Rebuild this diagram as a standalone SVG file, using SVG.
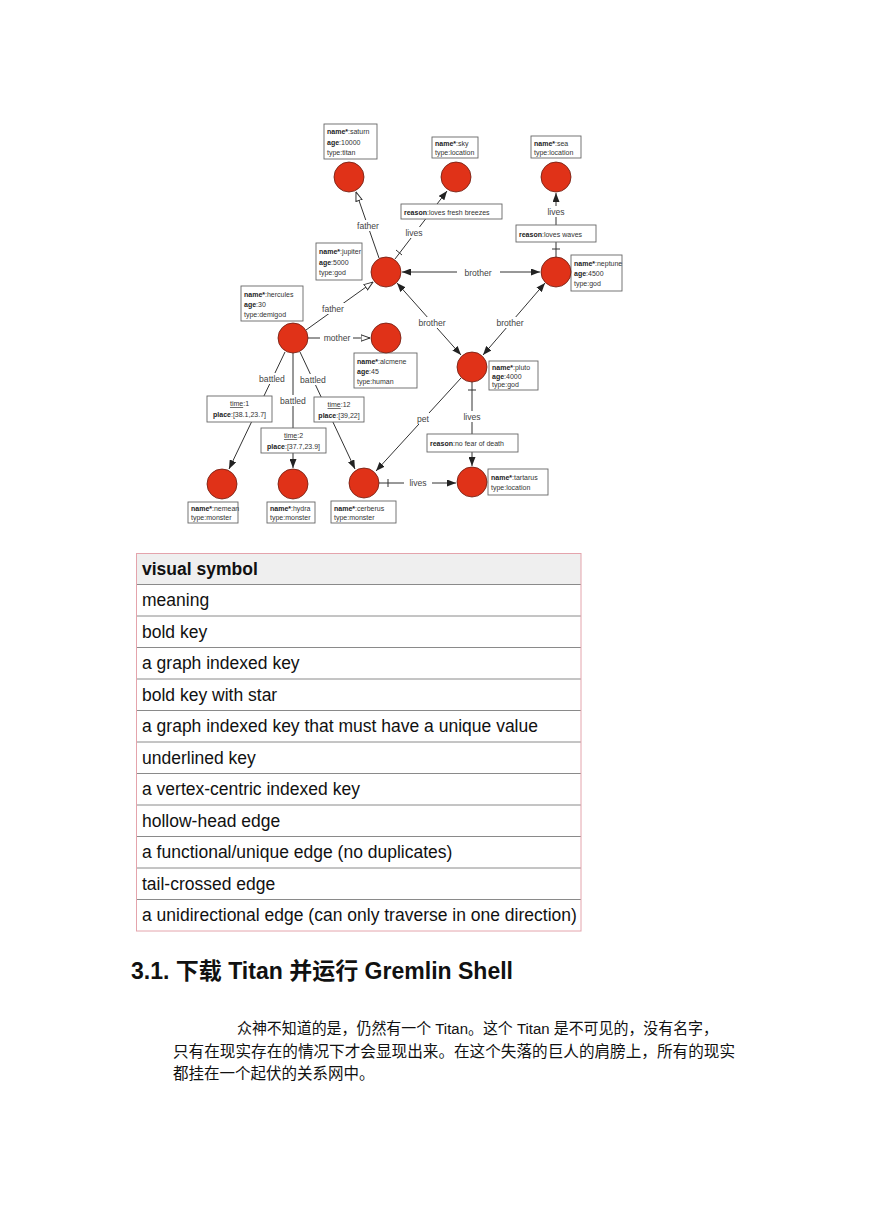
<svg xmlns="http://www.w3.org/2000/svg" width="869" height="1228" viewBox="0 0 869 1228">
<defs>
<style>
.v{fill:#e03218;stroke:#6b1c10;stroke-width:0.8}
.b{fill:#fff;stroke:#666;stroke-width:0.9}
.t{font-family:"Liberation Sans",Arial,sans-serif;font-size:7px;fill:#333}
.k{font-weight:bold;fill:#222}
.e{stroke:#333;stroke-width:1;fill:none}
.el{font-family:"Liberation Sans",Arial,sans-serif;font-size:8.6px;fill:#444;text-anchor:middle}
.lb{fill:#fff}
.tc{stroke:#333;stroke-width:1}
.tb{font-family:"Liberation Sans",Arial,sans-serif;font-size:17.5px;fill:#111}
.rl{stroke:#8a8a8a;stroke-width:1}
</style>
<marker id="fa" markerUnits="userSpaceOnUse" viewBox="0 0 9 7" refX="9" refY="3.5" markerWidth="9" markerHeight="7" orient="auto-start-reverse"><path d="M0,0 L9,3.5 L0,7 z" fill="#222"/></marker>
<marker id="ha" markerUnits="userSpaceOnUse" viewBox="0 0 10 8" refX="9.5" refY="4" markerWidth="10" markerHeight="8" orient="auto"><path d="M0.5,0.8 L9.5,4 L0.5,7.2 z" fill="#fff" stroke="#333" stroke-width="1"/></marker>
</defs>
<rect width="869" height="1228" fill="#fff"/>

<g id="connectors">
<line class="e" x1="379" y1="258" x2="356" y2="192" marker-end="url(#ha)"/>
<line class="e" x1="395" y1="259" x2="447" y2="191" marker-end="url(#fa)"/>
<line class="tc" x1="396" y1="250" x2="402" y2="255"/>
<line class="e" x1="556" y1="257" x2="556" y2="193" marker-end="url(#fa)"/>
<line class="tc" x1="552" y1="249" x2="560" y2="249"/>
<line class="e" x1="402" y1="272" x2="540" y2="272" marker-start="url(#fa)" marker-end="url(#fa)"/>
<line class="e" x1="397" y1="283" x2="461" y2="355" marker-start="url(#fa)" marker-end="url(#fa)"/>
<line class="e" x1="545" y1="283" x2="483" y2="355" marker-start="url(#fa)" marker-end="url(#fa)"/>
<line class="e" x1="306" y1="330" x2="373" y2="282" marker-end="url(#ha)"/>
<line class="e" x1="308" y1="338" x2="370" y2="338" marker-end="url(#ha)"/>
<line class="e" x1="285" y1="352" x2="229" y2="469" marker-end="url(#fa)"/>
<line class="e" x1="293" y1="353" x2="293" y2="468" marker-end="url(#fa)"/>
<line class="e" x1="300" y1="352" x2="355" y2="469" marker-end="url(#fa)"/>
<line class="e" x1="461" y1="378" x2="376" y2="471" marker-end="url(#fa)"/>
<line class="e" x1="472" y1="382" x2="472" y2="466" marker-end="url(#fa)"/>
<line class="tc" x1="468" y1="390" x2="476" y2="390"/>
<line class="e" x1="379" y1="483" x2="456" y2="483" marker-end="url(#fa)"/>
<line class="tc" x1="388" y1="479" x2="388" y2="487"/>

<g id="edge-labels">
<rect class="lb" x="355" y="220" width="26" height="11"/><text class="el" x="368" y="229">father</text>
<rect class="lb" x="404" y="227" width="20" height="11"/><text class="el" x="414" y="236">lives</text>
<rect class="b" x="401" y="204" width="101" height="15"/>
<text class="t" x="404" y="214.5"><tspan class="k">reason</tspan>:loves fresh breezes</text>
<rect class="lb" x="546" y="206" width="20" height="11"/><text class="el" x="556" y="215">lives</text>
<rect class="b" x="516" y="225" width="80" height="17"/>
<text class="t" x="519" y="236.5"><tspan class="k">reason</tspan>:loves waves</text>
<rect class="lb" x="457" y="267" width="43" height="11"/><text class="el" x="478" y="276">brother</text>
<rect class="lb" x="413" y="317" width="39" height="11"/><text class="el" x="432" y="326">brother</text>
<rect class="lb" x="491" y="317" width="39" height="11"/><text class="el" x="510" y="326">brother</text>
<rect class="lb" x="320" y="303" width="27" height="11"/><text class="el" x="333" y="312">father</text>
<rect class="lb" x="320" y="332" width="33" height="11"/><text class="el" x="337" y="341">mother</text>
<rect class="lb" x="258" y="373" width="29" height="11"/><text class="el" x="272" y="382">battled</text>
<rect class="lb" x="279" y="395" width="29" height="11"/><text class="el" x="293" y="404">battled</text>
<rect class="lb" x="299" y="374" width="29" height="11"/><text class="el" x="313" y="383">battled</text>
<rect class="b" x="207" y="396" width="65" height="26"/>
<text class="t" x="239.5" y="406" text-anchor="middle"><tspan text-decoration="underline">time</tspan>:1</text>
<text class="t" x="239.5" y="417" text-anchor="middle"><tspan class="k">place</tspan>:[38.1,23.7]</text>
<rect class="b" x="261" y="428" width="65" height="25"/>
<text class="t" x="293.5" y="438" text-anchor="middle"><tspan text-decoration="underline">time</tspan>:2</text>
<text class="t" x="293.5" y="449" text-anchor="middle"><tspan class="k">place</tspan>:[37.7,23.9]</text>
<rect class="b" x="314" y="397" width="50" height="25"/>
<text class="t" x="339" y="407" text-anchor="middle"><tspan text-decoration="underline">time</tspan>:12</text>
<text class="t" x="339" y="418" text-anchor="middle"><tspan class="k">place</tspan>:[39,22]</text>
<rect class="lb" x="415" y="413" width="16" height="11"/><text class="el" x="423" y="422">pet</text>
<rect class="lb" x="462" y="411" width="20" height="11"/><text class="el" x="472" y="420">lives</text>
<rect class="b" x="427" y="434" width="91" height="18"/>
<text class="t" x="430" y="446"><tspan class="k">reason</tspan>:no fear of death</text>
<rect class="lb" x="404" y="477" width="28" height="11"/><text class="el" x="418" y="486">lives</text>
</g>
</g>

<g id="saturn"><rect class="b" x="324" y="124" width="53" height="35"/>
<text class="t" x="327" y="134"><tspan class="k">name*</tspan>:saturn</text>
<text class="t" x="327" y="144.5"><tspan class="k">age</tspan>:10000</text>
<text class="t" x="327" y="155">type:titan</text>
<circle class="v" cx="349" cy="177" r="15"/></g>

<g id="sky"><rect class="b" x="432" y="137" width="46" height="21"/>
<text class="t" x="435" y="146"><tspan class="k">name*</tspan>:sky</text>
<text class="t" x="435" y="155">type:location</text>
<circle class="v" cx="456" cy="177" r="15"/></g>

<g id="sea"><rect class="b" x="531" y="136" width="50" height="22"/>
<text class="t" x="534" y="145.5"><tspan class="k">name*</tspan>:sea</text>
<text class="t" x="534" y="155">type:location</text>
<circle class="v" cx="556" cy="177" r="15"/></g>

<g id="jupiter"><rect class="b" x="316" y="243" width="46" height="37"/>
<text class="t" x="319" y="254"><tspan class="k">name*</tspan>:jupiter</text>
<text class="t" x="319" y="264.5"><tspan class="k">age</tspan>:5000</text>
<text class="t" x="319" y="275">type:god</text>
<circle class="v" cx="386" cy="272" r="15"/></g>

<g id="neptune"><rect class="b" x="571" y="255" width="51" height="36"/>
<text class="t" x="574" y="266"><tspan class="k">name*</tspan>:neptune</text>
<text class="t" x="574" y="276"><tspan class="k">age</tspan>:4500</text>
<text class="t" x="574" y="286">type:god</text>
<circle class="v" cx="556" cy="272" r="15"/></g>

<g id="hercules"><rect class="b" x="241" y="286" width="62" height="35"/>
<text class="t" x="244" y="297"><tspan class="k">name*</tspan>:hercules</text>
<text class="t" x="244" y="307"><tspan class="k">age</tspan>:30</text>
<text class="t" x="244" y="317">type:demigod</text>
<circle class="v" cx="293" cy="338" r="15"/></g>

<g id="alcmene"><rect class="b" x="354" y="353" width="63" height="35"/>
<text class="t" x="357" y="364"><tspan class="k">name*</tspan>:alcmene</text>
<text class="t" x="357" y="374"><tspan class="k">age</tspan>:45</text>
<text class="t" x="357" y="384">type:human</text>
<circle class="v" cx="386" cy="338" r="15"/></g>

<g id="pluto"><rect class="b" x="489" y="361" width="49" height="29"/>
<text class="t" x="492" y="370"><tspan class="k">name*</tspan>:pluto</text>
<text class="t" x="492" y="378.5"><tspan class="k">age</tspan>:4000</text>
<text class="t" x="492" y="387">type:god</text>
<circle class="v" cx="472" cy="367" r="15"/></g>

<g id="tartarus"><rect class="b" x="488" y="469" width="60" height="26"/>
<text class="t" x="491" y="480"><tspan class="k">name*</tspan>:tartarus</text>
<text class="t" x="491" y="490">type:location</text>
<circle class="v" cx="472" cy="482" r="15"/></g>

<g id="nemean"><rect class="b" x="188" y="502" width="50" height="21"/>
<text class="t" x="191" y="511"><tspan class="k">name*</tspan>:nemean</text>
<text class="t" x="191" y="520">type:monster</text>
<circle class="v" cx="222" cy="484" r="15"/></g>

<g id="hydra"><rect class="b" x="267" y="502" width="48" height="21"/>
<text class="t" x="270" y="511"><tspan class="k">name*</tspan>:hydra</text>
<text class="t" x="270" y="520">type:monster</text>
<circle class="v" cx="293" cy="484" r="15"/></g>

<g id="cerberus"><rect class="b" x="331" y="501" width="65" height="22"/>
<text class="t" x="334" y="510.5"><tspan class="k">name*</tspan>:cerberus</text>
<text class="t" x="334" y="520">type:monster</text>
<circle class="v" cx="364" cy="483" r="15"/></g>

<g id="legend-table">
<rect x="136" y="553" width="445" height="31.5" fill="#efefef"/>
<line class="rl" x1="136" y1="584.5" x2="581" y2="584.5"/>
<line class="rl" x1="136" y1="616" x2="581" y2="616"/>
<line class="rl" x1="136" y1="647.5" x2="581" y2="647.5"/>
<line class="rl" x1="136" y1="679" x2="581" y2="679"/>
<line class="rl" x1="136" y1="710.5" x2="581" y2="710.5"/>
<line class="rl" x1="136" y1="742" x2="581" y2="742"/>
<line class="rl" x1="136" y1="773.5" x2="581" y2="773.5"/>
<line class="rl" x1="136" y1="805" x2="581" y2="805"/>
<line class="rl" x1="136" y1="836.5" x2="581" y2="836.5"/>
<line class="rl" x1="136" y1="868" x2="581" y2="868"/>
<line class="rl" x1="136" y1="899.5" x2="581" y2="899.5"/>
<rect x="136.5" y="553.5" width="444.5" height="377.5" fill="none" stroke="#e4a4ac" stroke-width="1"/>
<text class="tb" x="142" y="574.5" font-weight="bold">visual symbol</text>
<text class="tb" x="142" y="606">meaning</text>
<text class="tb" x="142" y="637.5">bold key</text>
<text class="tb" x="142" y="669">a graph indexed key</text>
<text class="tb" x="142" y="700.5">bold key with star</text>
<text class="tb" x="142" y="732">a graph indexed key that must have a unique value</text>
<text class="tb" x="142" y="763.5">underlined key</text>
<text class="tb" x="142" y="795">a vertex-centric indexed key</text>
<text class="tb" x="142" y="826.5">hollow-head edge</text>
<text class="tb" x="142" y="858">a functional/unique edge (no duplicates)</text>
<text class="tb" x="142" y="889.5">tail-crossed edge</text>
<text class="tb" x="142" y="921">a unidirectional edge (can only traverse in one direction)</text>
</g>

<text x="131" y="979" font-family="'Liberation Sans','Noto Sans CJK SC',sans-serif" font-size="23" font-weight="bold" fill="#111" textLength="382" lengthAdjust="spacingAndGlyphs">3.1. 下载 Titan 并运行 Gremlin Shell</text>
<g font-family="'Liberation Sans','Noto Sans CJK SC',sans-serif" font-size="15.5" fill="#111">
<text x="237" y="1034" textLength="481" lengthAdjust="spacingAndGlyphs">众神不知道的是，仍然有一个 Titan。这个 Titan 是不可见的，没有名字，</text>
<text x="173" y="1057" textLength="562" lengthAdjust="spacingAndGlyphs">只有在现实存在的情况下才会显现出来。在这个失落的巨人的肩膀上，所有的现实</text>
<text x="173" y="1079">都挂在一个起伏的关系网中。</text>
</g>
</svg>
